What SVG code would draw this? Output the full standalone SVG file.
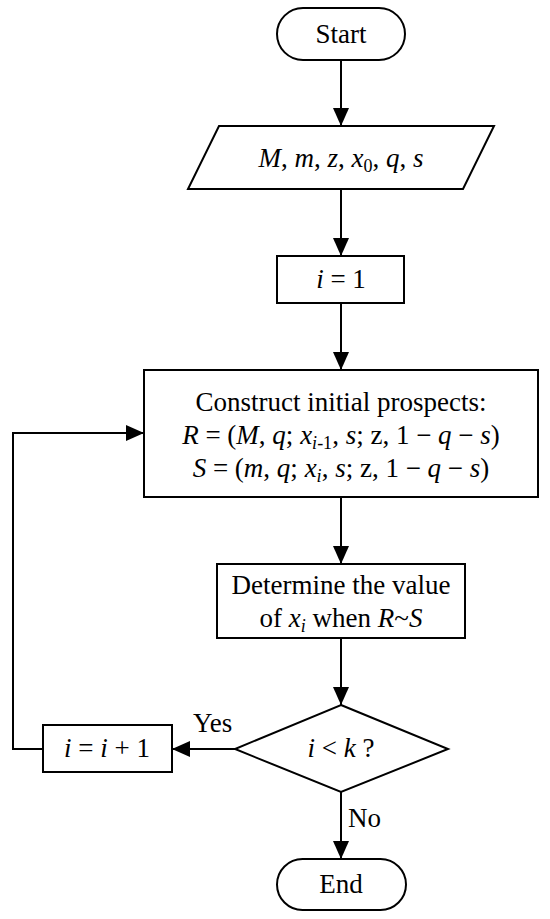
<svg xmlns="http://www.w3.org/2000/svg" width="550" height="919" viewBox="0 0 550 919">
<style>
.s{fill:#fff;stroke:#000;stroke-width:2}
.c{fill:none;stroke:#000;stroke-width:2}
text{font-family:"Liberation Serif","Times New Roman",serif;font-size:27px;fill:#000}
.m{text-anchor:middle}
.i{font-style:italic}
.sub{font-size:18px}
</style>
<defs>
<marker id="ah" markerUnits="userSpaceOnUse" markerWidth="18" markerHeight="16" refX="18" refY="8" orient="auto">
<path d="M0,0 L18,8 L0,16 z" fill="#000"/>
</marker>
</defs>
<rect width="550" height="919" fill="#fff"/>
<g id="connectors">
<line class="c" x1="341" y1="60" x2="341" y2="126" marker-end="url(#ah)"/>
<line class="c" x1="341" y1="189" x2="341" y2="256" marker-end="url(#ah)"/>
<line class="c" x1="341" y1="303" x2="341" y2="370" marker-end="url(#ah)"/>
<line class="c" x1="341" y1="497" x2="341" y2="564" marker-end="url(#ah)"/>
<line class="c" x1="341" y1="638" x2="341" y2="705" marker-end="url(#ah)"/>
<line class="c" x1="235" y1="749" x2="172" y2="749" marker-end="url(#ah)"/>
<line class="c" x1="341" y1="792" x2="341" y2="859" marker-end="url(#ah)"/>
<path class="c" d="M43,749 H13 V433 H144" marker-end="url(#ah)"/>
<text x="193" y="732">Yes</text>
<text x="348" y="827">No</text>
</g>
<g id="start">
<rect class="s" x="277" y="8" width="128" height="52" rx="26" ry="26"/>
<text class="m" x="341" y="43">Start</text>
</g>
<g id="input">
<polygon class="s" points="219,126 494,126 463,189 188,189"/>
<text class="m" x="341" y="167"><tspan class="i">M</tspan>, <tspan class="i">m</tspan>, <tspan class="i">z</tspan>, <tspan class="i">x</tspan><tspan class="sub" dy="5">0</tspan><tspan dy="-5">, </tspan><tspan class="i">q</tspan>, <tspan class="i">s</tspan></text>
</g>
<g id="init">
<rect class="s" x="277" y="256" width="127" height="47"/>
<text class="m" x="341" y="288"><tspan class="i">i</tspan> = 1</text>
</g>
<g id="construct">
<rect class="s" x="144" y="370" width="394" height="127"/>
<text class="m" x="341" y="411">Construct initial prospects:</text>
<text class="m" x="341" y="444"><tspan class="i">R</tspan> = (<tspan class="i">M</tspan>, <tspan class="i">q</tspan>; <tspan class="i">x</tspan><tspan class="sub i" dy="5">i</tspan><tspan class="sub">-1</tspan><tspan dy="-5">, </tspan><tspan class="i">s</tspan>; z, 1 − <tspan class="i">q</tspan> − <tspan class="i">s</tspan>)</text>
<text class="m" x="341" y="477"><tspan class="i">S</tspan> = (<tspan class="i">m</tspan>, <tspan class="i">q</tspan>; <tspan class="i">x</tspan><tspan class="sub i" dy="5">i</tspan><tspan dy="-5">, </tspan><tspan class="i">s</tspan>; z, 1 − <tspan class="i">q</tspan> − <tspan class="i">s</tspan>)</text>
</g>
<g id="determine">
<rect class="s" x="217" y="564" width="248" height="74"/>
<text class="m" x="341" y="594">Determine the value</text>
<text class="m" x="341" y="627">of <tspan class="i">x</tspan><tspan class="sub i" dy="5">i</tspan><tspan dy="-5"> when </tspan><tspan class="i">R</tspan>~<tspan class="i">S</tspan></text>
</g>
<g id="decision">
<polygon class="s" points="341,705 448,749 341,792 235,749"/>
<text class="m" x="341" y="757"><tspan class="i">i</tspan> &lt; <tspan class="i">k</tspan> ?</text>
</g>
<g id="increment">
<rect class="s" x="43" y="725" width="129" height="47"/>
<text class="m" x="107" y="757"><tspan class="i">i</tspan> = <tspan class="i">i</tspan> + 1</text>
</g>
<g id="end">
<rect class="s" x="277" y="859" width="129" height="51" rx="25.5" ry="25.5"/>
<text class="m" x="341" y="893">End</text>
</g>
</svg>
